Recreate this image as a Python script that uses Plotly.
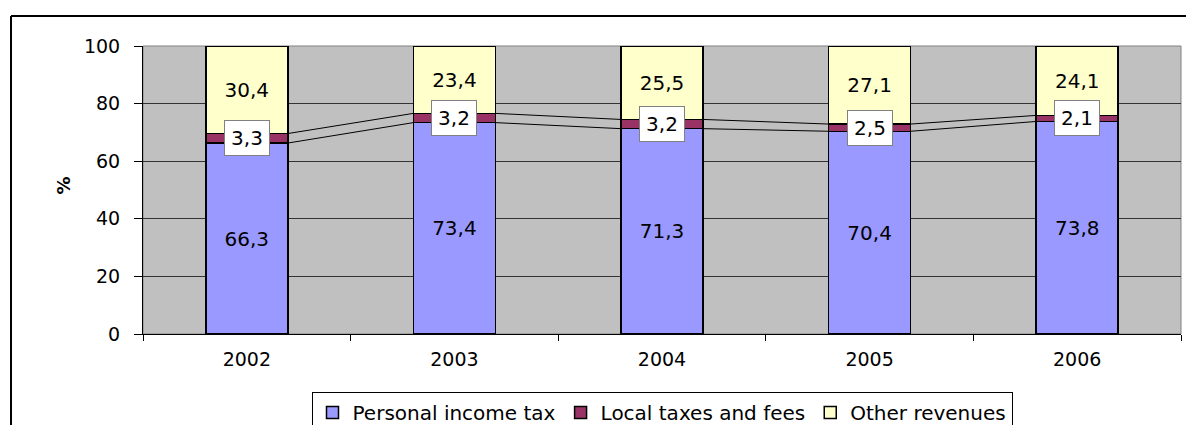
import plotly.graph_objects as go

years = ["2002", "2003", "2004", "2005", "2006"]
personal = [66.3, 73.4, 71.3, 70.4, 73.8]
local = [3.3, 3.2, 3.2, 2.5, 2.1]
other = [30.4, 23.4, 25.5, 27.1, 24.1]

names = ["Personal income tax", "Local taxes and fees", "Other revenues"]
colors = ["#9999FF", "#993366", "#FFFFCC"]

FONT = "DejaVu Sans, Arial, sans-serif"
W, H = 1186, 425
L, R, T, B = 143, 5, 46, 91
PW, PH = W - L - R, H - T - B
bargap = 0.605
bw = 1 - bargap


def fmt(v):
    return f"{v:.1f}".replace(".", ",")


def px_x(p):
    return (p - L) / PW


def px_y(p):
    return (H - B - p) / PH


fig = go.Figure()
series = [personal, local, other]
for i, (nm, vals, col) in enumerate(zip(names, series, colors)):
    kw = {}
    if i != 1:
        kw = dict(text=[fmt(v) for v in vals], textposition="inside",
                  insidetextanchor="middle", constraintext="none",
                  textfont=dict(family=FONT, size=20, color="black"),
                  textangle=0)
    fig.add_trace(go.Bar(x=years, y=vals, name=nm,
                         marker=dict(color=col, line=dict(color="black", width=1.5)),
                         hoverinfo="skip", **kw))

# labels for local taxes in white boxes
for i, y in enumerate(years):
    fig.add_annotation(x=i, y=personal[i] + local[i] / 2, xref="x", yref="y",
                       text=fmt(local[i]), showarrow=False,
                       font=dict(family=FONT, size=20, color="black"),
                       bgcolor="white", bordercolor="#808080", borderwidth=1,
                       width=42, height=32, xanchor="center", yanchor="middle")

# series lines
shapes = []
for i in range(len(years) - 1):
    for lev in (personal, [p + l for p, l in zip(personal, local)]):
        shapes.append(dict(type="line", xref="x", yref="y",
                           x0=i + bw / 2, y0=lev[i], x1=i + 1 - bw / 2, y1=lev[i + 1],
                           line=dict(color="black", width=1), layer="above"))

# plot area border (grey)
shapes.append(dict(type="rect", xref="paper", yref="paper", x0=0, y0=0, x1=1, y1=1,
                   line=dict(color="#808080", width=1), layer="below"))
# outer chart border
shapes.append(dict(type="line", xref="paper", yref="paper",
                   x0=px_x(11), y0=px_y(16), x1=px_x(W + 5), y1=px_y(16),
                   line=dict(color="black", width=2)))
shapes.append(dict(type="line", xref="paper", yref="paper",
                   x0=px_x(11), y0=px_y(16), x1=px_x(11), y1=px_y(H + 5),
                   line=dict(color="black", width=2)))

fig.add_annotation(x=px_x(50), y=px_y(186), xref="paper", yref="paper", text="<b>%</b>",
                   textangle=-90, showarrow=False,
                   font=dict(family=FONT, size=18, color="black"))

fig.update_layout(
    width=W, height=H, barmode="stack", bargap=bargap,
    margin=dict(l=L, r=R, t=T, b=B, autoexpand=False),
    paper_bgcolor="white", plot_bgcolor="#C0C0C0",
    font=dict(family=FONT, color="black"),
    shapes=shapes,
    showlegend=True,
    legend=dict(orientation="h", x=0.5, xanchor="center", y=px_y(392), yanchor="top",
                traceorder="normal", bordercolor="black", borderwidth=1,
                bgcolor="white", font=dict(family=FONT, size=20, color="black"),
                itemclick=False, itemdoubleclick=False),
    xaxis=dict(type="category", range=[-0.5, 4.5], tickson="boundaries",
               ticks="outside", ticklen=6, tickcolor="black",
               showline=True, linecolor="black", linewidth=1,
               showgrid=False, ticklabelstandoff=8,
               tickfont=dict(family=FONT, size=19, color="black")),
    yaxis=dict(range=[0, 100], tickvals=[0, 20, 40, 60, 80, 100],
               ticks="outside", ticklen=8, tickcolor="black",
               showline=True, linecolor="black", linewidth=1,
               showgrid=True, gridcolor="#333333", gridwidth=1,
               zeroline=False, ticklabelstandoff=10,
               tickfont=dict(family=FONT, size=19, color="black")),
)

fig.write_html("out.html", config={"displayModeBar": False},
               post_script="document.body.style.margin='0';document.body.style.overflow='hidden';")
